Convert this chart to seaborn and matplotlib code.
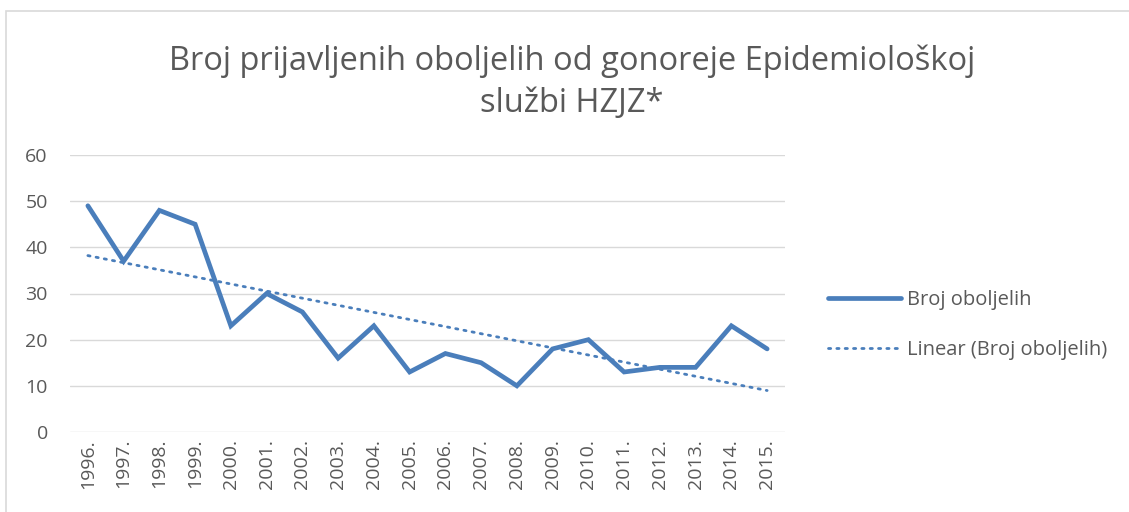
import numpy as np
import pandas as pd
import matplotlib
matplotlib.use("Agg")
import matplotlib.pyplot as plt
import seaborn as sns
from matplotlib.patches import Rectangle

years = ["1996.", "1997.", "1998.", "1999.", "2000.", "2001.", "2002.", "2003.", "2004.", "2005.",
         "2006.", "2007.", "2008.", "2009.", "2010.", "2011.", "2012.", "2013.", "2014.", "2015."]
cases = [49, 37, 48, 45, 23, 30, 26, 16, 23, 13, 17, 15, 10, 18, 20, 13, 14, 14, 23, 18]
series_name = "Broj oboljelih"
trend_name = "Linear (Broj oboljelih)"
title = "Broj prijavljenih oboljelih od gonoreje Epidemiološkoj\nslužbi HZJZ*"
yticks = [0, 10, 20, 30, 40, 50, 60]

sns.set_theme(style="white")
plt.rcParams['font.family'] = ['Open Sans', 'DejaVu Sans']

fig = plt.figure(figsize=(11.29, 5.12), dpi=100)
ax = fig.add_axes([70/1129, 80/512, 715/1129, 277/512])

idx = np.arange(len(years))
df = pd.DataFrame({"idx": idx, "cases": cases})
coef = np.polyfit(idx, np.array(cases, dtype=float), 1)
df["trend"] = np.polyval(coef, idx)

blue = "#4a7ebb"
for y in yticks:
    ax.axhline(y, color="#d9d9d9", lw=1.0, zorder=0)

sns.lineplot(data=df, x="idx", y="cases", ax=ax, color=blue, lw=3.4,
             label=series_name, solid_capstyle="round", solid_joinstyle="miter")
sns.lineplot(data=df, x="idx", y="trend", ax=ax, color=blue, lw=2.0,
             linestyle=(0, (0.8, 2.2)), dash_capstyle="round", label=trend_name)

ax.set_xlim(-0.5, len(years) - 0.5)
ax.set_ylim(0, 60)
ax.set_yticks(yticks)
ax.set_xticks(idx)
ax.set_xticklabels(years, rotation=90)
ax.tick_params(axis="both", length=0, labelsize=14, colors="#595959")
ax.tick_params(axis="y", pad=16)
ax.tick_params(axis="x", pad=5)
ax.set_xlabel("")
ax.set_ylabel("")
for s in ax.spines.values():
    s.set_visible(False)

leg = ax.legend(loc="center left", bbox_to_anchor=(1.035, 0.385), frameon=False,
                fontsize=14.5, labelcolor="#595959", handlelength=3.6,
                handletextpad=0.3, labelspacing=1.5)

fig.text(572/1129, 1 - 82/512, title, ha="center", va="center", fontsize=23.5,
         color="#595959", linespacing=1.35)

fig.patches.append(Rectangle((6/1129, -0.01), 1.1, 1 - 11/512 + 0.01,
                             transform=fig.transFigure, fill=False,
                             edgecolor="#d9d9d9", lw=1.2))

fig.savefig("out.png", dpi=100, facecolor="white")
